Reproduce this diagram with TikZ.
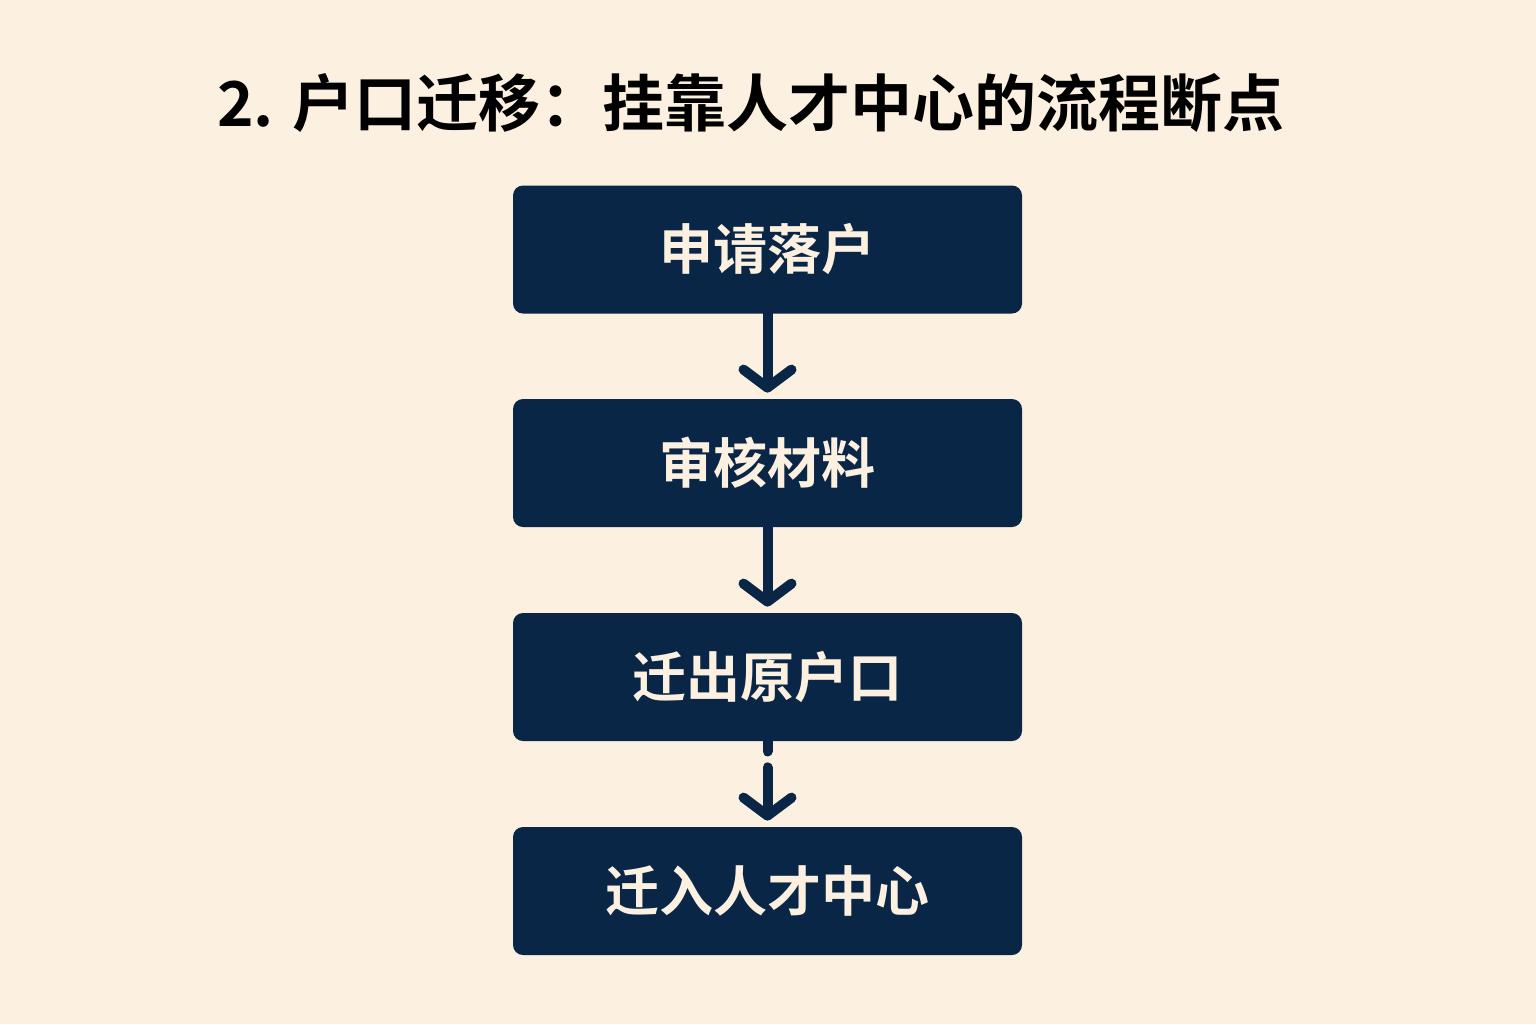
\documentclass[tikz,border=0pt]{standalone}
\usepackage{fontspec}
\setmainfont{Noto Sans CJK SC}
\newfontfamily\cjkb{Noto Sans CJK SC Bold}
\usetikzlibrary{arrows.meta}
\definecolor{bg}{HTML}{FCF0E0}
\definecolor{navy}{HTML}{0A2647}
\tikzset{
  stepbox/.style={fill=navy,rounded corners=5pt,minimum width=254.5pt,minimum height=64pt,text=bg,font=\cjkb\fontsize{27}{30}\selectfont,inner sep=0pt},
  flow/.style={navy,line width=5pt,line cap=round,-{Straight Barb[length=9pt,width=24pt,line cap=round,line join=round]}},
  stub/.style={navy,line width=5pt,line cap=round}
}
\begin{document}
\begin{tikzpicture}[x=0.5pt,y=-0.5pt]
\fill[bg] (0,0) rectangle (1536,1024);
\useasboundingbox (0,0) rectangle (1536,1024);
\node[font=\cjkb\fontsize{31}{34}\selectfont,text=black] (t) at (751,103) {2. 户口迁移：挂靠人才中心的流程断点};
\node[stepbox] (a) at (767.5,249.5) {申请落户};
\node[stepbox] (b) at (767.5,463) {审核材料};
\node[stepbox] (c) at (767.5,677) {迁出原户口};
\node[stepbox] (d) at (767.5,891) {迁入人才中心};
\draw[flow] (a.south) -- ([yshift=3pt]b.north);
\draw[flow] (b.south) -- ([yshift=3pt]c.north);
\draw[stub] (c.south) -- ([yshift=-5pt]c.south);
\draw[flow] ([yshift=-13pt]c.south) -- ([yshift=3pt]d.north);
\end{tikzpicture}
\end{document}
